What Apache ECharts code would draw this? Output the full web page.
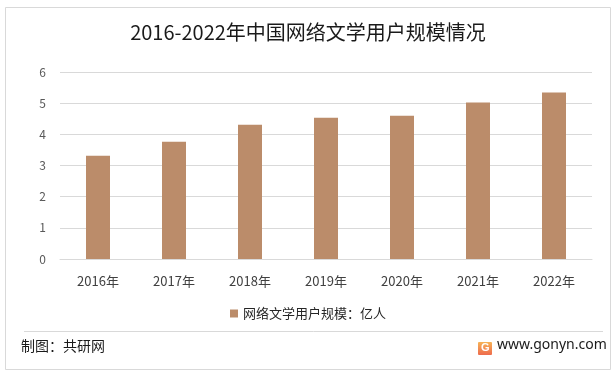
<!DOCTYPE html>
<html>
<head>
<meta charset="utf-8">
<script src="https://cdn.jsdelivr.net/npm/echarts@6/dist/echarts.min.js"></script>
<style>
  html, body { margin: 0; padding: 0; background: #fff; }
  #chart { width: 616px; height: 377px; }
</style>
</head>
<body>
<div id="chart"></div>
<script>
const years = ["2016年", "2017年", "2018年", "2019年", "2020年", "2021年", "2022年"];
const users = [3.31, 3.76, 4.31, 4.53, 4.6, 5.02, 5.34];
const seriesName = "网络文学用户规模：亿人";

const font = "'Noto Sans CJK SC', 'Noto Sans', sans-serif";
const chart = echarts.init(document.getElementById("chart"));

chart.setOption({
  backgroundColor: "#fff",
  textStyle: { fontFamily: font },
  title: {
    text: "2016-2022年中国网络文学用户规模情况",
    left: "center",
    top: 17,
    textStyle: { fontSize: 20, fontWeight: "normal", color: "#1a1a1a", fontFamily: font },
  },
  legend: {
    bottom: 52,
    left: "center",
    itemWidth: 8,
    itemHeight: 8,
    itemGap: 4,
    icon: "rect",
    textStyle: { fontSize: 13, color: "#262626", fontFamily: font },
    data: [seriesName],
  },
  grid: { left: 60, right: 24, top: 72, bottom: 118 },
  xAxis: {
    type: "category",
    data: years,
    axisLine: { lineStyle: { color: "#d9d9d9" } },
    axisTick: { show: false },
    axisLabel: { color: "#404040", fontSize: 13, margin: 16 },
  },
  yAxis: {
    type: "value",
    min: 0,
    max: 6,
    interval: 1,
    axisLine: { show: false },
    axisTick: { show: false },
    axisLabel: { color: "#595959", fontSize: 12, margin: 14 },
    splitLine: { lineStyle: { color: "#d9d9d9" } },
  },
  series: [
    {
      name: seriesName,
      type: "bar",
      data: users,
      barWidth: 24,
      itemStyle: { color: "#BB8C6A" },
    },
  ],
  graphic: [
    {
      type: "rect",
      shape: { x: 5.5, y: 7.5, width: 605, height: 362 },
      style: { fill: "none", stroke: "#d9d9d9", lineWidth: 1 },
      silent: true,
    },
    {
      type: "line",
      shape: { x1: 24, y1: 331.5, x2: 603, y2: 331.5 },
      style: { stroke: "#d9d9d9", lineWidth: 1 },
      silent: true,
    },
    {
      type: "text",
      left: 21,
      top: 339,
      style: { text: "制图：共研网", fontSize: 14, fill: "#1a1a1a", fontFamily: font },
    },
    {
      type: "rect",
      shape: { x: 478, y: 342, width: 14, height: 13, r: 1 },
      style: {
        fill: new echarts.graphic.LinearGradient(0, 0, 0, 1, [
          { offset: 0, color: "#F6B356" },
          { offset: 1, color: "#EE6B4D" },
        ]),
      },
    },
    {
      type: "text",
      left: 481,
      top: 342,
      style: { text: "G", fontSize: 11, fontWeight: "bold", fill: "#fff", fontFamily: "Arial, sans-serif" },
    },
    {
      type: "text",
      left: 497,
      top: 338,
      style: { text: "www.gonyn.com", fontSize: 14, fill: "#1a1a1a", fontFamily: "'Noto Sans', sans-serif" },
    },
  ],
});
</script>
</body>
</html>
